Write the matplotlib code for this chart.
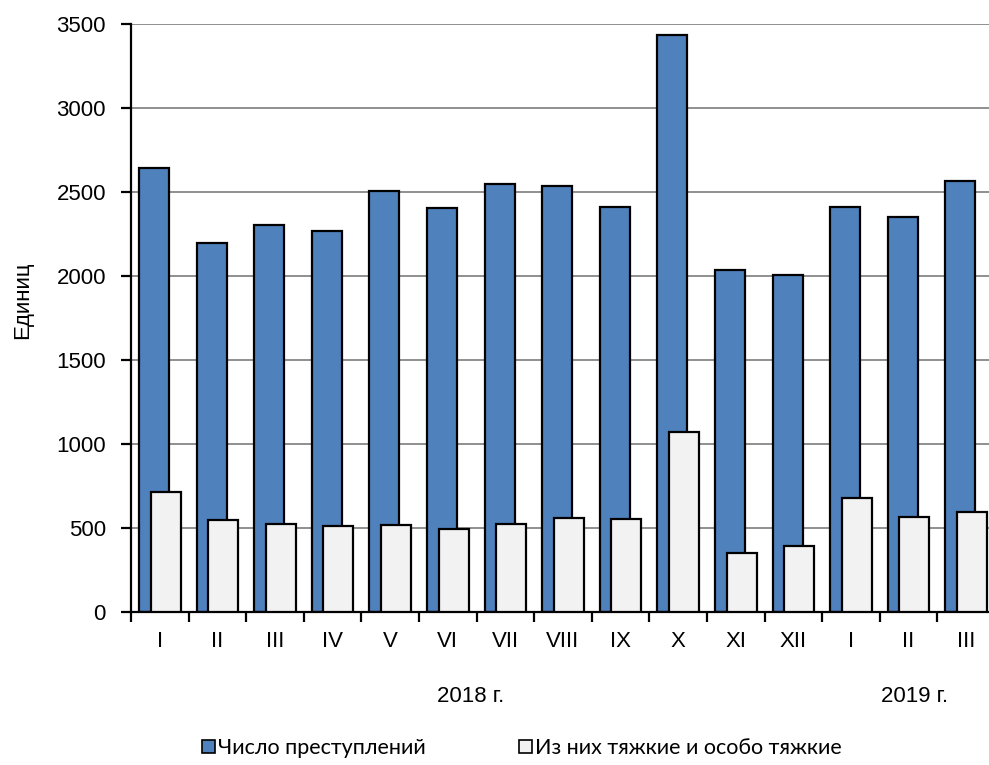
import matplotlib
matplotlib.use("Agg")
import matplotlib.pyplot as plt
import matplotlib.transforms as mtransforms
from matplotlib.patches import Patch
import numpy as np

months = ["I", "II", "III", "IV", "V", "VI", "VII", "VIII", "IX", "X", "XI", "XII", "I", "II", "III"]
total_crimes = [2645, 2197, 2304, 2270, 2508, 2407, 2548, 2536, 2411, 3435, 2036, 2006, 2409, 2353, 2565]
severe_crimes = [712, 548, 524, 512, 516, 492, 526, 558, 552, 1071, 351, 393, 680, 567, 597]
years = ["2018 г.", "2019 г."]
year_centers = [5.4, 13.1]
series_names = ["Число преступлений", "Из них тяжкие и особо тяжкие"]

FONT = ["Liberation Sans", "DejaVu Sans"]

fig = plt.figure(figsize=(9.89, 7.65), dpi=100)
ax = fig.add_axes([131/989, 1-612/765, 864/989, 588/765])

x = np.arange(len(months))
ax.bar(x - 0.1, total_crimes, width=0.52, color="#4F81BD", edgecolor="black", linewidth=1.6, zorder=2)
ax.bar(x + 0.1, severe_crimes, width=0.52, color="#F2F2F2", edgecolor="black", linewidth=1.6, zorder=3)

ax.set_xlim(-0.5, len(months) - 0.5)
ax.set_ylim(0, 3500)
ax.set_yticks(np.arange(0, 3501, 500))
ax.yaxis.grid(True, color="#878787", linewidth=1.3, zorder=0)
ax.set_axisbelow(True)
for s in ["top", "right"]:
    ax.spines[s].set_visible(False)
ax.spines["left"].set_linewidth(1.6)
ax.spines["bottom"].set_linewidth(1.6)

ax.tick_params(axis="y", direction="out", length=7, width=1.6, labelsize=16, pad=11)
for lab in ax.get_yticklabels():
    lab.set_fontfamily(FONT)

ax.set_xticks(x)
ax.set_xticklabels(months, fontsize=16, family=FONT)
ax.tick_params(axis="x", length=0, pad=14)
ax.set_xticks(np.arange(-0.5, len(months), 1), minor=True)
ax.tick_params(axis="x", which="minor", direction="out", length=7, width=1.6)

fig.text(23/989, 1-300/765, "Единиц", rotation=90, ha="center", va="center", fontsize=16, family=FONT)
trans = mtransforms.blended_transform_factory(ax.transData, fig.transFigure)
for yr, xc in zip(years, year_centers):
    ax.text(xc, 1-697/765, yr, transform=trans, ha="center", va="center", fontsize=16, family=FONT)

handles = [Patch(facecolor="#4F81BD", edgecolor="black", linewidth=1.2),
           Patch(facecolor="#F2F2F2", edgecolor="black", linewidth=1.2)]
fig.legend(handles, series_names, loc="center", bbox_to_anchor=(522/989, 1-748/765), ncol=2,
           frameon=False, handlelength=0.6, handleheight=0.6, handletextpad=0.15,
           columnspacing=4.3, prop={"family": ["Lato", "DejaVu Sans"], "size": 15.5})

fig.savefig("out.png", dpi=100)
